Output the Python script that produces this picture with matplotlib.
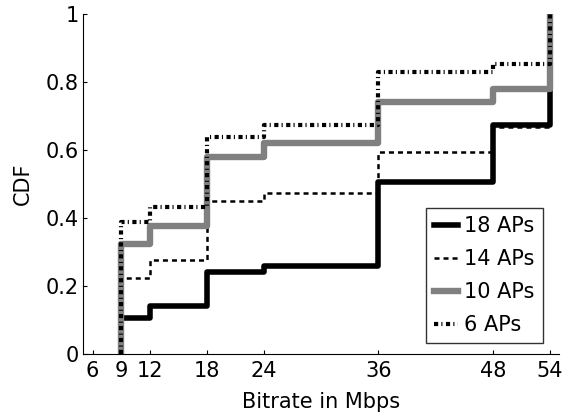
import matplotlib
matplotlib.use("Agg")
import matplotlib.pyplot as plt

rates = [9, 12, 18, 24, 36, 48, 54]
xticks = [6, 9, 12, 18, 24, 36, 48, 54]
yticks = [0, 0.2, 0.4, 0.6, 0.8, 1]
ytick_labels = ["0", "0.2", "0.4", "0.6", "0.8", "1"]

labels = ["18 APs", "14 APs", "10 APs", "6 APs"]
cdf_18 = [0.105, 0.141, 0.242, 0.26, 0.506, 0.674, 1.0]
cdf_14 = [0.225, 0.278, 0.451, 0.473, 0.595, 0.667, 1.0]
cdf_10 = [0.324, 0.377, 0.579, 0.62, 0.742, 0.781, 1.0]
cdf_6 = [0.387, 0.433, 0.638, 0.673, 0.83, 0.854, 1.0]

plt.rcParams['font.family'] = ['DejaVu Sans']
plt.rcParams['lines.scale_dashes'] = False
FS = 15

fig = plt.figure(figsize=(5.69, 4.20), dpi=100)
ax = fig.add_axes([0.1459, 0.157, 0.8374, 0.8095])

styles = [
    dict(color='black', lw=4.0, ls='-'),
    dict(color='black', lw=1.8, ls=(0, (3.6, 2.9))),
    dict(color='0.5', lw=4.6, ls='-'),
    dict(color='black', lw=3.0, ls=(0, (3.0, 2.3, 0.8, 2.5))),
]
series = [cdf_18, cdf_14, cdf_10, cdf_6]
for lab, vals, st in zip(labels, series, styles):
    ax.step([rates[0]] + rates, [0] + vals, where='post', label=lab,
            color=st['color'], lw=st['lw'], linestyle=st['ls'],
            dash_capstyle='butt')

ax.set_xlim(5, 55)
ax.set_ylim(0, 1)
ax.set_xticks(xticks)
ax.set_xticklabels([str(x) for x in xticks])
ax.set_yticks(yticks)
ax.set_yticklabels(ytick_labels)
ax.tick_params(direction='in', length=3, width=0.8, labelsize=FS)
ax.tick_params(axis='x', pad=5)
ax.tick_params(axis='y', pad=3)
for s in ['top', 'right']:
    ax.spines[s].set_visible(False)
for s in ['left', 'bottom']:
    ax.spines[s].set_linewidth(0.8)

ax.set_xlabel('Bitrate in Mbps', fontsize=FS, labelpad=8)
ax.set_ylabel('CDF', fontsize=FS, labelpad=9)

leg = ax.legend(loc='lower right', bbox_to_anchor=(0.965, 0.032),
                borderaxespad=0, fontsize=FS, frameon=True, fancybox=False,
                edgecolor='black', handlelength=1.15, handletextpad=0.3,
                labelspacing=0.62, borderpad=0.4)
leg.get_frame().set_linewidth(1.0)

fig.savefig('out.png', dpi=100)
